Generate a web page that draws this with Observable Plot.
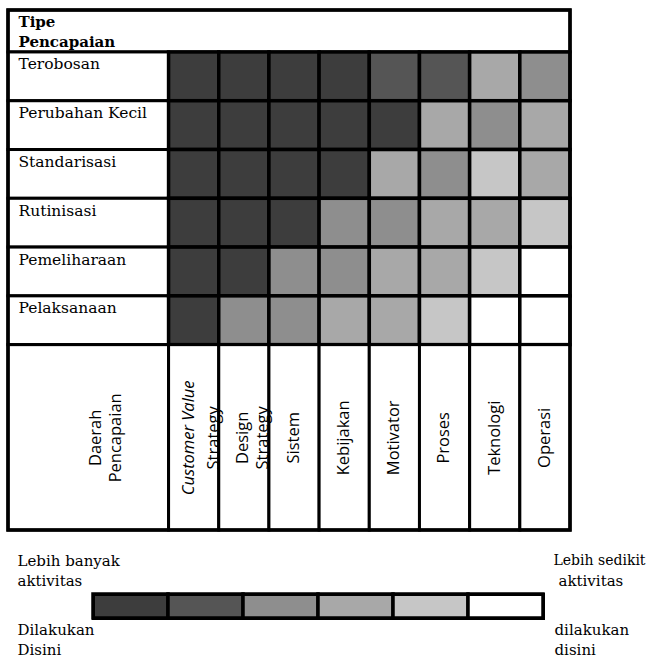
<!DOCTYPE html>
<html>
<head>
<meta charset="utf-8">
<script src="https://cdn.jsdelivr.net/npm/d3@7"></script>
<script src="https://cdn.jsdelivr.net/npm/@observablehq/plot@0.6"></script>
<style>
  body { margin: 0; background: #fff; }
  svg { display: block; }
</style>
</head>
<body>
<div id="chart"></div>
<div id="legend"></div>
<script>
// ---- Data ----
const headerLabel = "Tipe\nPencapaian";
const footerLabel = "Daerah\nPencapaian";
const rows = ["Terobosan", "Perubahan Kecil", "Standarisasi", "Rutinisasi", "Pemeliharaan", "Pelaksanaan"];
const cols = ["Customer Value Strategy", "Design Strategy", "Sistem", "Kebijakan", "Motivator", "Proses", "Teknologi", "Operasi"];
const colLabels = ["Customer Value\nStrategy", "Design\nStrategy", "Sistem", "Kebijakan", "Motivator", "Proses", "Teknologi", "Operasi"];
// activity level per cell: 1 = most activity ... 6 = least activity
const levelTerobosan      = [1, 1, 1, 1, 2, 2, 4, 3];
const levelPerubahanKecil = [1, 1, 1, 1, 1, 4, 3, 4];
const levelStandarisasi   = [1, 1, 1, 1, 4, 3, 5, 4];
const levelRutinisasi     = [1, 1, 1, 3, 3, 4, 4, 5];
const levelPemeliharaan   = [1, 1, 3, 3, 4, 4, 5, 6];
const levelPelaksanaan    = [1, 3, 3, 4, 4, 5, 6, 6];
const legendLevels = [1, 2, 3, 4, 5, 6];
const legendLeftTop = "Lebih banyak\naktivitas";
const legendLeftBottom = "Dilakukan\nDisini";
const legendRightTop = "Lebih sedikit";
const legendRightTop2 = "aktivitas";
const legendRightBottom = "dilakukan\ndisini";

const levelRows = [levelTerobosan, levelPerubahanKecil, levelStandarisasi, levelRutinisasi, levelPemeliharaan, levelPelaksanaan];
const cells = rows.flatMap((r, i) => cols.map((c, j) => ({row: r, col: c, level: levelRows[i][j]})));

// ---- Styling ----
const shades = ["#3d3d3d", "#555555", "#8e8e8e", "#a8a8a8", "#c6c6c6", "#ffffff"];
const serif = "'DejaVu Serif', serif";
const sans = "'Open Sans', sans-serif";
const LABEL = -3.2;      // left edge of the label column (in column units)
const TOP = -0.86;       // top edge of header row (in row units)
const BOTTOM = 9.8;      // bottom of footer section
const ri = d => rows.indexOf(d);
const ci = d => cols.indexOf(d);
const midFooter = (rows.length + BOTTOM) / 2;
const colText = {y: midFooter, rotate: -90, textAnchor: "middle", lineAnchor: "middle",
  fontFamily: sans, fontSize: 16.5, lineHeight: 1.2, fill: "black"};

const chart = Plot.plot({
  width: 650,
  height: 540,
  x: {type: "linear", domain: [LABEL, cols.length], range: [8, 570], axis: null},
  y: {type: "linear", domain: [TOP, BOTTOM], range: [10, 530], axis: null},
  color: {type: "ordinal", domain: legendLevels, range: shades},
  marks: [
    // header box
    Plot.rect([headerLabel], {x1: LABEL, x2: cols.length, y1: TOP, y2: 0, fill: "white", stroke: "black", strokeWidth: 3}),
    Plot.text([headerLabel], {x: LABEL, y: TOP, dx: 10, dy: 3, text: d => d, textAnchor: "start", lineAnchor: "top",
      fontFamily: serif, fontWeight: "bold", fontSize: 15, lineHeight: 1.3, fill: "black"}),
    // row label boxes
    Plot.rect(rows, {x1: LABEL, x2: 0, y1: d => ri(d), y2: d => ri(d) + 1, fill: "white", stroke: "black", strokeWidth: 3}),
    Plot.text(rows, {x: LABEL, y: d => ri(d), dx: 10, dy: 6, text: d => d, textAnchor: "start", lineAnchor: "top",
      fontFamily: serif, fontSize: 15.5, fill: "black"}),
    // shaded cells
    Plot.rect(cells, {x1: d => ci(d.col), x2: d => ci(d.col) + 1, y1: d => ri(d.row), y2: d => ri(d.row) + 1,
      fill: "level", stroke: "black", strokeWidth: 3.5}),
    // footer boxes
    Plot.rect([footerLabel], {x1: LABEL, x2: 0, y1: rows.length, y2: BOTTOM, fill: "white", stroke: "black", strokeWidth: 3}),
    Plot.rect(cols, {x1: d => ci(d), x2: d => ci(d) + 1, y1: rows.length, y2: BOTTOM, fill: "white", stroke: "black", strokeWidth: 3}),
    Plot.text([footerLabel], {...colText, x: LABEL / 2, dx: 16, text: d => d}),
    // column labels (first one split: italic "Customer Value")
    Plot.text([colLabels[0].split("\n")[0]], {...colText, x: ci(cols[0]) + 0.5, dx: -7, text: d => d, fontStyle: "italic"}),
    Plot.text([colLabels[0].split("\n")[1]], {...colText, x: ci(cols[0]) + 0.5, dx: 18, text: d => d}),
    Plot.text([colLabels[1]], {...colText, x: ci(cols[1]) + 0.5, dx: 7, text: d => d}),
    Plot.text(colLabels.slice(2), {...colText, x: (d, i) => i + 2.5, dx: -2, text: d => d}),
    // outer border
    Plot.rect([headerLabel], {x1: LABEL, x2: cols.length, y1: TOP, y2: BOTTOM, fill: "none", stroke: "black", strokeWidth: 3.5})
  ]
});
document.getElementById("chart").append(chart);

const legendText = {fontFamily: serif, fontSize: 15, lineHeight: 1.3, fill: "black", textAnchor: "start", lineAnchor: "top"};
const legend = Plot.plot({
  width: 650,
  height: 118,
  marginLeft: 93,
  marginRight: 107,
  marginTop: 54,
  marginBottom: 40,
  x: {type: "band", domain: legendLevels, padding: 0, axis: null},
  color: {type: "ordinal", domain: legendLevels, range: shades},
  marks: [
    Plot.cell(legendLevels, {x: d => d, fill: d => d, stroke: "black", strokeWidth: 3.5}),
    Plot.frame({stroke: "black", strokeWidth: 3}),
    Plot.text([legendLeftTop], {...legendText, frameAnchor: "top-left", dx: -76, dy: -42, text: d => d}),
    Plot.text([legendLeftBottom], {...legendText, frameAnchor: "bottom-left", dx: -76, dy: 3, text: d => d}),
    Plot.text([legendRightTop], {...legendText, frameAnchor: "top-right", dx: 10, dy: -42, fontSize: 14, text: d => d}),
    Plot.text([legendRightTop2], {...legendText, frameAnchor: "top-right", dx: 15, dy: -22, text: d => d}),
    Plot.text([legendRightBottom], {...legendText, frameAnchor: "bottom-right", dx: 11, dy: 3, text: d => d})
  ]
});
document.getElementById("legend").append(legend);
</script>
</body>
</html>
